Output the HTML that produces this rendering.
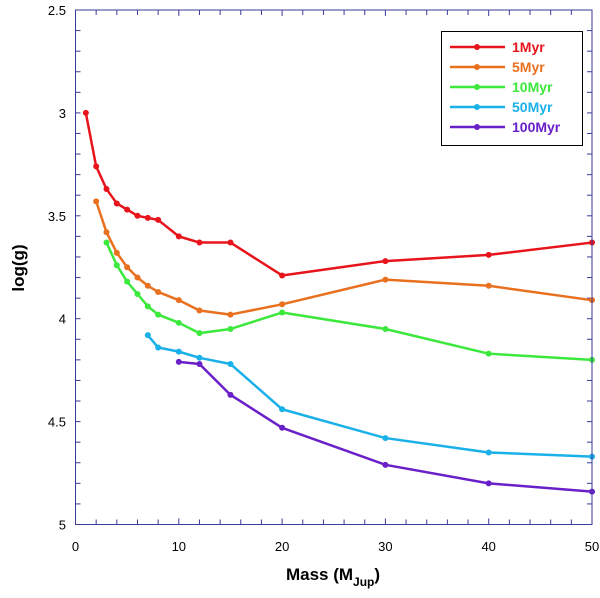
<!DOCTYPE html>
<html><head><meta charset="utf-8"><style>
body{margin:0;background:#fff}
svg{display:block;font-family:"Liberation Sans",Arial,sans-serif}
</style></head><body>
<svg id="chart" width="600" height="598">
<rect x="0" y="0" width="600" height="598" fill="#fff"/>
<g id="ticks"></g>
<g id="series"></g>
<rect x="75.5" y="10" width="516.5" height="514.5" fill="none" stroke="#3a3a9a" stroke-width="1"/>
<text x="333" y="580" text-anchor="middle" font-size="17" font-weight="bold">Mass (M<tspan font-size="12" dy="6">Jup</tspan><tspan dy="-6">)</tspan></text>
<text transform="translate(24,268) rotate(-90)" text-anchor="middle" font-size="17" font-weight="bold">log(g)</text>
<g>
<rect x="441.5" y="31.5" width="141" height="114" fill="#fff" stroke="#000" stroke-width="1"/>
<g id="legend-items"></g>
</g>
</svg>
<script>
const masses1 = [1,2,3,4,5,6,7,8,10,12,15,20,30,40,50];
const logg1 = [3.0,3.26,3.37,3.44,3.47,3.5,3.51,3.52,3.6,3.63,3.63,3.79,3.72,3.69,3.63];
const masses5 = [2,3,4,5,6,7,8,10,12,15,20,30,40,50];
const logg5 = [3.43,3.58,3.68,3.75,3.8,3.84,3.87,3.91,3.96,3.98,3.93,3.81,3.84,3.91];
const masses10 = [3,4,5,6,7,8,10,12,15,20,30,40,50];
const logg10 = [3.63,3.74,3.82,3.88,3.94,3.98,4.02,4.07,4.05,3.97,4.05,4.17,4.2];
const masses50 = [7,8,10,12,15,20,30,40,50];
const logg50 = [4.08,4.14,4.16,4.19,4.22,4.44,4.58,4.65,4.67];
const masses100 = [10,12,15,20,30,40,50];
const logg100 = [4.21,4.22,4.37,4.53,4.71,4.8,4.84];
const seriesNames = ["1Myr","5Myr","10Myr","50Myr","100Myr"];
const xTickLabels = ["0","10","20","30","40","50"];
const yTickLabels = ["2.5","3","3.5","4","4.5","5"];

const NS="http://www.w3.org/2000/svg";
const X0=75.5,X1=592,Y0=10,Y1=524.5;
const xs=m=>X0+(m-0)/50*(X1-X0);
const ys=v=>Y0+(v-2.5)/2.5*(Y1-Y0);
const colors=["#e8141c","#e8701e","#3ce83c","#1ab0e8","#6a20c8"];
const data=[[masses1,logg1],[masses5,logg5],[masses10,logg10],[masses50,logg50],[masses100,logg100]];
function mk(t,a,p){const e=document.createElementNS(NS,t);for(const k in a)e.setAttribute(k,a[k]);p.appendChild(e);return e;}
const tg=document.getElementById('ticks');
const ax="#3a3a9a";
for(let m=0;m<=50;m+=2){const x=xs(m);const L=m%10===0?6:5;
 mk('line',{x1:x,x2:x,y1:Y1,y2:Y1-L,stroke:ax},tg);mk('line',{x1:x,x2:x,y1:Y0,y2:Y0+L,stroke:ax},tg);}
for(let i=0;i<=25;i++){const v=2.5+i*0.1;const y=ys(v);
 mk('line',{x1:X0,x2:X0+5,y1:y,y2:y,stroke:ax},tg);mk('line',{x1:X1,x2:X1-5,y1:y,y2:y,stroke:ax},tg);}
xTickLabels.forEach(l=>{const t=mk('text',{x:xs(+l),y:551,'text-anchor':'middle','font-size':13},tg);t.textContent=l;
 
 });
yTickLabels.forEach(l=>{const t=mk('text',{x:66,y:ys(+l)+5,'text-anchor':'end','font-size':13},tg);t.textContent=l;
 
 });
const sg=document.getElementById('series');
data.forEach((d,i)=>{const g=mk('g',{},sg);
 
 
 const pts=d[0].map((m,j)=>xs(m)+','+ys(d[1][j])).join(' ');
 mk('polyline',{points:pts,fill:'none',stroke:colors[i],'stroke-width':2.5,'stroke-linejoin':'round'},g);
 d[0].forEach((m,j)=>{const c=mk('circle',{cx:xs(m),cy:ys(d[1][j]),r:3,fill:colors[i]},g);
  
  });
});
const lg=document.getElementById('legend-items');
seriesNames.forEach((n,i)=>{const y=47+i*20;const g=mk('g',{},lg);
 
 
 mk('line',{x1:450,x2:505,y1:y,y2:y,stroke:colors[i],'stroke-width':2.5},g);
 mk('circle',{cx:477,cy:y,r:3,fill:colors[i]},g);
 const t=mk('text',{x:512,y:y+5,'font-size':14,'font-weight':'bold',fill:colors[i]},g);t.textContent=n;});
</script>
</body></html>
